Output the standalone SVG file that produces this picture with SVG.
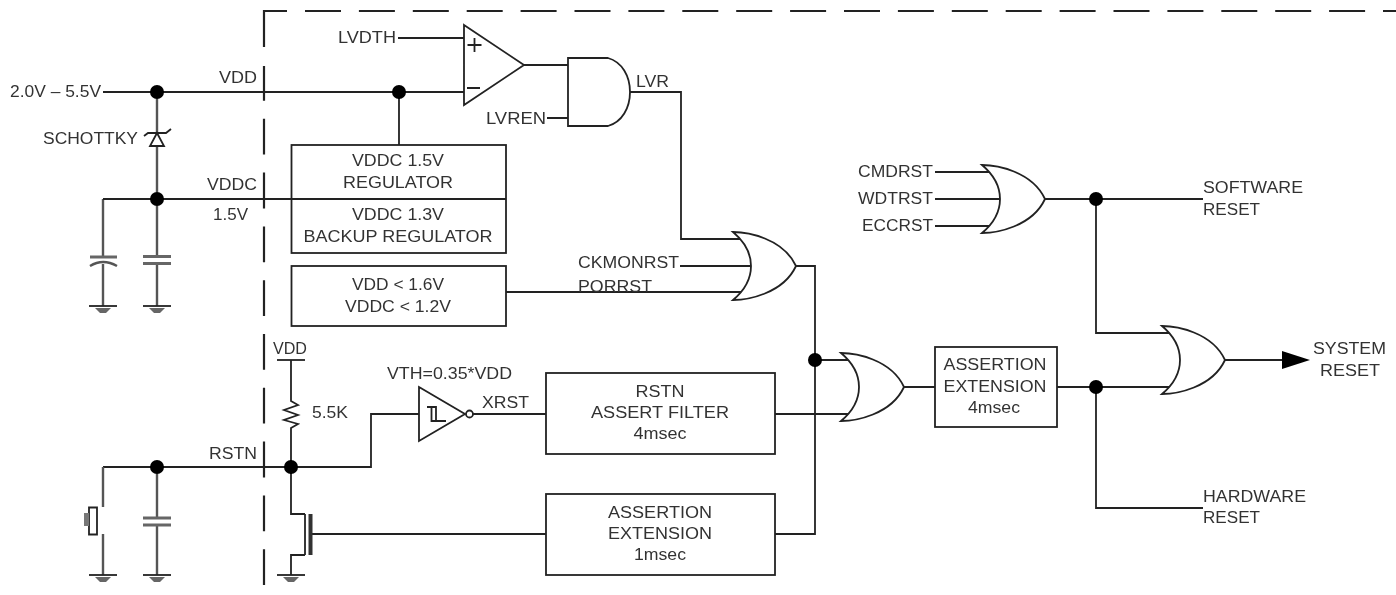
<svg xmlns="http://www.w3.org/2000/svg" width="1396" height="595" viewBox="0 0 1396 595">
<style>
text{font-family:"Liberation Sans",Arial,sans-serif;font-size:16px;fill:#333}
.m{text-anchor:middle}
.w{fill:none;stroke:#222;stroke-width:1.8}
.g{fill:none;stroke:#555;stroke-width:2.400}
.p{fill:none;stroke:#666;stroke-width:3}
.b{fill:#fff;stroke:#222;stroke-width:1.8}
.d{fill:#000}
.dash{fill:none;stroke:#222;stroke-width:2.200}
</style>
<defs>
<filter id="soft" x="0" y="0" width="1" height="1" filterUnits="objectBoundingBox"><feGaussianBlur stdDeviation="0.45"/></filter>
<g id="gnd"><path class="w" d="M-14 0H14"/><path fill="#666" d="M-8 2H8L3 7H-3Z"/></g>
<path id="or" class="b" d="M0 0C14 0 50 6 63 34C50 62 14 68 0 68C12 58 18 46 18 34C18 22 12 10 0 0Z"/>
</defs>
<rect width="1396" height="595" fill="#fff"/>
<g id="diagram" filter="url(#soft)">
<rect width="1396" height="595" fill="#fff"/>
<g id="boundary">
<path class="dash" d="M264 47V11H287"/>
<path class="dash" d="M264 585V66" stroke-dasharray="35.800 18"/>
<path class="dash" d="M305 11H1396" stroke-dasharray="36 17.900"/>
</g>
<g id="connectors">
<path class="w" d="M103 92H464M399 92V145"/>
<path class="g" d="M157 92V133M157 146V257M103 257V199M103 264V306M157 263V306"/>
<path class="w" d="M103 199H506"/>
<path class="w" d="M398 38H464M524 65H568M547 118H568M630 92H681V239H742M680 266H752M506 292H742"/>
<path class="w" d="M796 266H815V534H775M815 360H850M775 414H850M903 387H935"/>
<path class="w" d="M935 172H992M935 199H1001M935 226H992M1045 199H1203M1096 199V333H1172M1057 387H1172M1096 387V508H1203"/>
<path class="w" d="M1225 360H1283"/>
<path class="w" d="M103 467H371V414H419M473 414H546"/>
<path class="g" d="M103 507V467M157 467V517M157 525V575M103 534V575"/>
<path class="w" d="M291 360V401L298 405L284 410L298 415L284 420L298 424L291 428V514H305M305 555H291V575M312 534H546"/>
</g>
<g id="junctions">
<circle class="d" cx="157" cy="92" r="7"/><circle class="d" cx="157" cy="199" r="7"/>
<circle class="d" cx="399" cy="92" r="7"/><circle class="d" cx="815" cy="360" r="7"/>
<circle class="d" cx="1096" cy="199" r="7"/><circle class="d" cx="1096" cy="387" r="7"/>
<circle class="d" cx="157" cy="467" r="7"/><circle class="d" cx="291" cy="467" r="7"/>
</g>
<g id="supply">
<text x="10" y="97" textLength="91" lengthAdjust="spacingAndGlyphs">2.0V – 5.5V</text>
<text x="219" y="83" textLength="38" lengthAdjust="spacingAndGlyphs">VDD</text>
<text x="207" y="190" textLength="50" lengthAdjust="spacingAndGlyphs">VDDC</text>
<text x="213" y="220" textLength="35" lengthAdjust="spacingAndGlyphs">1.5V</text>
</g>
<g id="schottky">
<text x="43" y="144" textLength="95" lengthAdjust="spacingAndGlyphs">SCHOTTKY</text>
<path class="w" d="M144 136L148 133H166L171 129M157 133L150 146H164Z"/>
</g>
<g id="cap-poly"><path class="p" d="M90 257H117"/><path class="g" d="M90 266Q103 258 117 266"/></g>
<g id="cap-vddc"><path class="p" d="M143 256.500H171M143 263.500H171"/></g>
<g id="cap-rstn"><path class="p" d="M143 518H171M143 525H171"/></g>
<g id="gnds">
<use href="#gnd" x="103" y="306"/><use href="#gnd" x="157" y="306"/>
<use href="#gnd" x="103" y="575"/><use href="#gnd" x="157" y="575"/><use href="#gnd" x="291" y="575"/>
</g>
<g id="regulators">
<rect class="w" x="291.500" y="145" width="214.500" height="108"/>
<text class="m" x="398" y="166" textLength="92" lengthAdjust="spacingAndGlyphs">VDDC 1.5V</text>
<text class="m" x="398" y="188" textLength="110" lengthAdjust="spacingAndGlyphs">REGULATOR</text>
<text class="m" x="398" y="220" textLength="92" lengthAdjust="spacingAndGlyphs">VDDC 1.3V</text>
<text class="m" x="398" y="242" textLength="189" lengthAdjust="spacingAndGlyphs">BACKUP REGULATOR</text>
</g>
<g id="por">
<rect class="b" x="291.500" y="266" width="214.500" height="60"/>
<text class="m" x="398" y="290" textLength="92" lengthAdjust="spacingAndGlyphs">VDD &lt; 1.6V</text>
<text class="m" x="398" y="312" textLength="106" lengthAdjust="spacingAndGlyphs">VDDC &lt; 1.2V</text>
</g>
<g id="comparator">
<path class="b" d="M464 25L524 65L464 105Z"/>
<path class="w" d="M474.500 38V52M467.500 45H481.500M467 88H480"/>
<text x="338" y="43" textLength="58" lengthAdjust="spacingAndGlyphs">LVDTH</text>
</g>
<g id="and-gate">
<path class="b" d="M568 58H608C622 62 630 76 630 92C630 108 622 122 608 126H568Z"/>
<text x="486" y="124" textLength="60" lengthAdjust="spacingAndGlyphs">LVREN</text>
<text x="636" y="87" textLength="33" lengthAdjust="spacingAndGlyphs">LVR</text>
</g>
<g id="or-por">
<use href="#or" x="733" y="232"/>
<text x="578" y="268" textLength="101" lengthAdjust="spacingAndGlyphs">CKMONRST</text>
<text x="578" y="292" textLength="74" lengthAdjust="spacingAndGlyphs">PORRST</text>
</g>
<g id="or-sw">
<use href="#or" x="982" y="165"/>
<text x="858" y="177" textLength="75" lengthAdjust="spacingAndGlyphs">CMDRST</text>
<text x="858" y="204" textLength="75" lengthAdjust="spacingAndGlyphs">WDTRST</text>
<text x="862" y="231" textLength="71" lengthAdjust="spacingAndGlyphs">ECCRST</text>
</g>
<g id="or-mid"><use href="#or" x="841" y="353"/></g>
<g id="or-sys"><use href="#or" x="1162" y="326"/></g>
<g id="schmitt">
<path class="b" d="M419 387L465 414L419 441Z"/>
<circle class="b" cx="469.500" cy="414" r="3.500"/>
<path class="w" d="M427 407H436V421H446M431.500 407V421H436"/>
<text x="387" y="379" textLength="125" lengthAdjust="spacingAndGlyphs">VTH=0.35*VDD</text>
<text x="482" y="408" textLength="47" lengthAdjust="spacingAndGlyphs">XRST</text>
</g>
<g id="filter">
<rect class="b" x="546" y="373" width="229" height="81"/>
<text class="m" x="660" y="397" textLength="49" lengthAdjust="spacingAndGlyphs">RSTN</text>
<text class="m" x="660" y="418" textLength="138" lengthAdjust="spacingAndGlyphs">ASSERT FILTER</text>
<text class="m" x="660" y="439" textLength="53" lengthAdjust="spacingAndGlyphs">4msec</text>
</g>
<g id="ext1">
<rect class="b" x="546" y="494" width="229" height="81"/>
<text class="m" x="660" y="518" textLength="104" lengthAdjust="spacingAndGlyphs">ASSERTION</text>
<text class="m" x="660" y="539" textLength="104" lengthAdjust="spacingAndGlyphs">EXTENSION</text>
<text class="m" x="660" y="560" textLength="52" lengthAdjust="spacingAndGlyphs">1msec</text>
</g>
<g id="ext4">
<rect class="b" x="935" y="347" width="122" height="80"/>
<text class="m" x="995" y="370" textLength="103" lengthAdjust="spacingAndGlyphs">ASSERTION</text>
<text class="m" x="995" y="392" textLength="103" lengthAdjust="spacingAndGlyphs">EXTENSION</text>
<text class="m" x="994" y="413" textLength="52" lengthAdjust="spacingAndGlyphs">4msec</text>
</g>
<g id="rstn-pin">
<text x="209" y="459" textLength="48" lengthAdjust="spacingAndGlyphs">RSTN</text>
<text x="273" y="354" textLength="34" lengthAdjust="spacingAndGlyphs">VDD</text>
<path class="w" d="M277 360H305"/>
<text x="312" y="418" textLength="36" lengthAdjust="spacingAndGlyphs">5.5K</text>
</g>
<g id="nmos">
<path class="w" d="M305 514V555"/>
<rect x="308.500" y="514" width="4" height="41" fill="#333"/>
</g>
<g id="switch">
<path class="w" d="M89 507.500H97V534.500H89Z"/>
<rect x="84" y="513" width="5" height="13" fill="#777"/>
</g>
<g id="outputs">
<text x="1203" y="193" textLength="100" lengthAdjust="spacingAndGlyphs">SOFTWARE</text>
<text x="1203" y="215" textLength="57" lengthAdjust="spacingAndGlyphs">RESET</text>
<text x="1203" y="502" textLength="103" lengthAdjust="spacingAndGlyphs">HARDWARE</text>
<text x="1203" y="523" textLength="57" lengthAdjust="spacingAndGlyphs">RESET</text>
<path fill="#000" d="M1282 351L1310 360L1282 369Z"/>
<text x="1313" y="354" textLength="73" lengthAdjust="spacingAndGlyphs">SYSTEM</text>
<text x="1320" y="376" textLength="60" lengthAdjust="spacingAndGlyphs">RESET</text>
</g>
</g>
</svg>
